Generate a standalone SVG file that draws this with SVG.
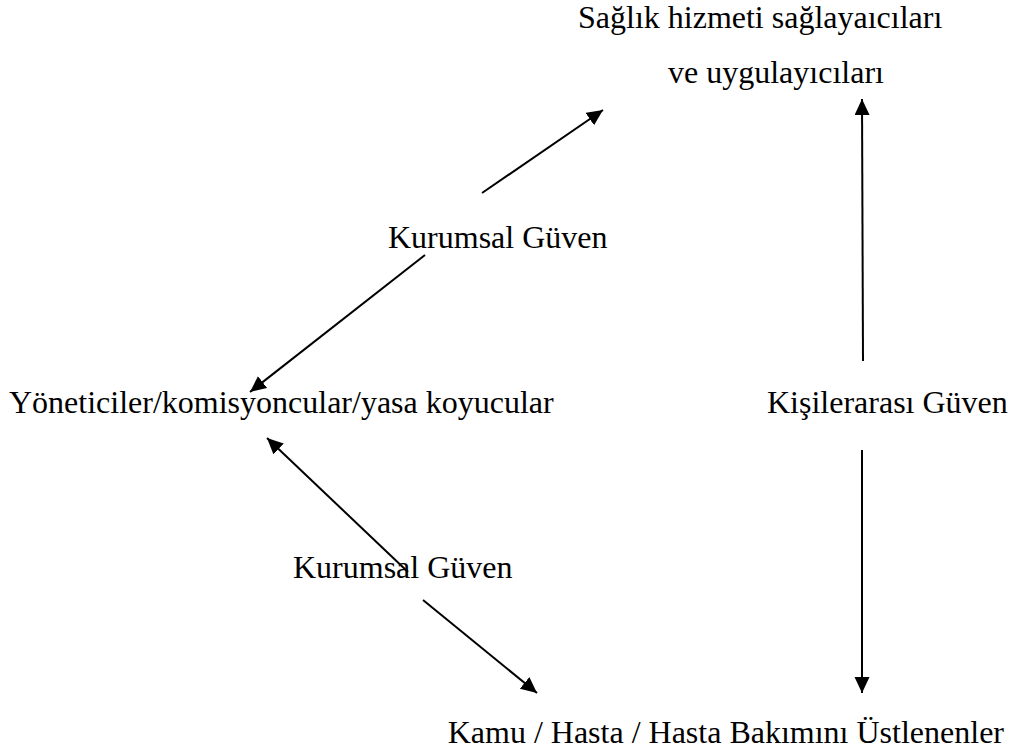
<svg xmlns="http://www.w3.org/2000/svg" width="1013" height="755" viewBox="0 0 1013 755">
<defs>
<marker id="ah" markerUnits="userSpaceOnUse" markerWidth="18" markerHeight="16" refX="16" refY="7.5" orient="auto">
<path d="M0,0 L16,7.5 L0,15 z" fill="#000"/>
</marker>
<style>
.t{font-family:"Liberation Serif","Times New Roman",serif;font-size:32px;fill:#000}
.c{stroke:#000;stroke-width:2;fill:none;marker-end:url(#ah)}
</style>
</defs>
<rect width="1013" height="755" fill="#fff"/>
<g id="saglik"><text class="t" x="578" y="28">Sağlık hizmeti sağlayaıcıları</text><text class="t" x="668" y="83">ve uygulayıcıları</text></g>
<g id="kurumsal1"><text class="t" x="388" y="248">Kurumsal Güven</text></g>
<g id="yoneticiler"><text class="t" x="9" y="413">Yöneticiler/komisyoncular/yasa koyucular</text></g>
<g id="kisilerarasi"><text class="t" x="767" y="413">Kişilerarası Güven</text></g>
<g id="kurumsal2"><text class="t" x="293" y="578">Kurumsal Güven</text></g>
<g id="kamu"><text class="t" x="1004" y="743" text-anchor="end">Kamu / Hasta / Hasta Bakımını Üstlenenler</text></g>
<g id="connectors">
<line class="c" x1="482" y1="193" x2="603" y2="110"/>
<line class="c" x1="425" y1="255" x2="250" y2="392"/>
<line class="c" x1="863" y1="361" x2="862" y2="99"/>
<line class="c" x1="408" y1="572" x2="267" y2="438"/>
<line class="c" x1="423" y1="600" x2="537" y2="693"/>
<line class="c" x1="862" y1="450" x2="862" y2="693"/>
</g>
</svg>
